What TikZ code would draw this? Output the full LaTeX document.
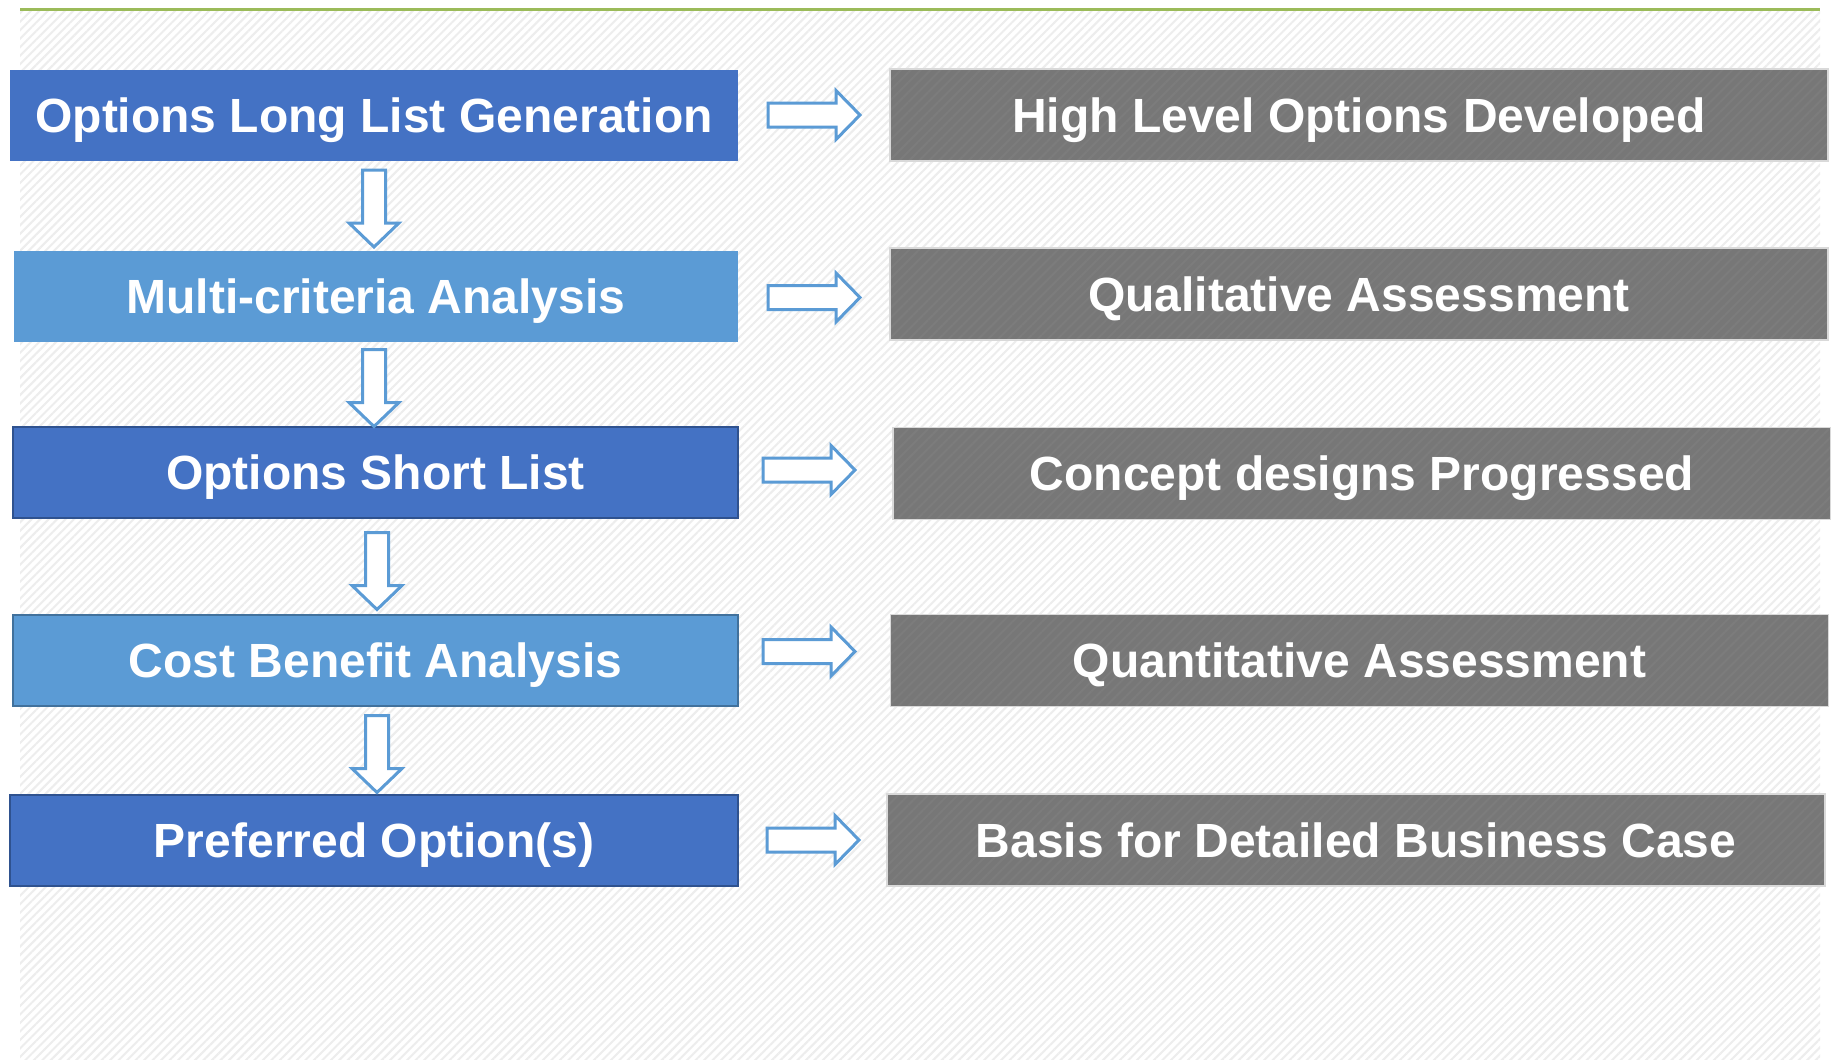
\documentclass[tikz,border=0pt]{standalone}
\usepackage{fontspec}
\setmainfont{Liberation Sans}
\usetikzlibrary{patterns.meta}
\definecolor{dblue}{HTML}{4472C4}
\definecolor{lblue}{HTML}{5B9BD5}
\definecolor{dborder}{HTML}{2F528F}
\definecolor{lborder}{HTML}{41719C}
\definecolor{gbox}{HTML}{777777}
\definecolor{gstripe}{HTML}{7C7C7C}
\definecolor{lineGreen}{HTML}{9BBB59}
\definecolor{bgstripe}{HTML}{EDEDED}
\begin{document}
\begin{tikzpicture}[x=1pt,y=-1pt,
  box/.style={rectangle, inner sep=0pt, outer sep=0pt, text=white,
    font=\bfseries\fontsize{48}{48}\selectfont, text height=34.4pt, text depth=0pt,
    minimum height=91pt},
  darkbox/.style={box, fill=dblue},
  lightbox/.style={box, fill=lblue},
  darkedge/.style={draw=dborder, line width=2.5pt},
  lightedge/.style={draw=lborder, line width=2.5pt},
  graybox/.style={box, fill=gbox, minimum width=938pt, minimum height=92pt,
    postaction={pattern={Lines[angle=45,distance=7pt,line width=2pt]}, pattern color=gstripe},
    postaction={draw=gray!30, line width=1.5pt}},
  barrow/.style={draw=lblue, fill=white, line width=3pt, line join=miter},
  rarr/.pic={\draw[barrow] (0,-12) -- (68,-12) -- (68,-24.5) -- (92,0) -- (68,24.5) -- (68,12) -- (0,12) -- cycle;},
  darr/.pic={\draw[barrow] (-11.5,0) -- (11.5,0) -- (11.5,53) -- (25,53) -- (0,77) -- (-25,53) -- (-11.5,53) -- cycle;}
]
\useasboundingbox (0,0) rectangle (1831,1060);
\fill[white] (0,0) rectangle (1831,1060);
\fill[pattern={Lines[angle=45,distance=6pt,line width=2pt]}, pattern color=bgstripe] (20,11) rectangle (1820,1060);
\draw[lineGreen, line width=3pt] (20,9) -- (1820,9);

% left column
\node[darkbox, minimum width=728pt] (l1) at (374,115.5) {Options Long List Generation};
\node[lightbox, minimum width=724pt] (l2) at (376,296.5) {Multi-criteria Analysis};
\node[darkbox, darkedge, minimum width=725pt] (l3) at (375.5,472.5) {Options Short List};
\node[lightbox, lightedge, minimum width=725pt] (l4) at (375.5,660.5) {Cost Benefit Analysis};
\node[darkbox, darkedge, minimum width=728pt] (l5) at (374,840.5) {Preferred Option(s)};

% right column
\node[graybox] (r1) at (1359,115) {High Level Options Developed};
\node[graybox] (r2) at (1359,294) {Qualitative Assessment};
\node[graybox] (r3) at (1362,473.5) {Concept designs Progressed};
\node[graybox] (r4) at (1359.5,660.5) {Quantitative Assessment};
\node[graybox] (r5) at (1356,840) {Basis for Detailed Business Case};

% block arrows to the right
\pic (a1) at (768,115) {rarr};
\pic (a2) at (768,297.5) {rarr};
\pic (a3) at (763,470) {rarr};
\pic (a4) at (763,651.5) {rarr};
\pic (a5) at (767,840) {rarr};

% block arrows downward
\pic (d1) at (374,170) {darr};
\pic (d2) at (374,349.5) {darr};
\pic (d3) at (377,532.5) {darr};
\pic (d4) at (377,715.5) {darr};
\end{tikzpicture}
\end{document}
